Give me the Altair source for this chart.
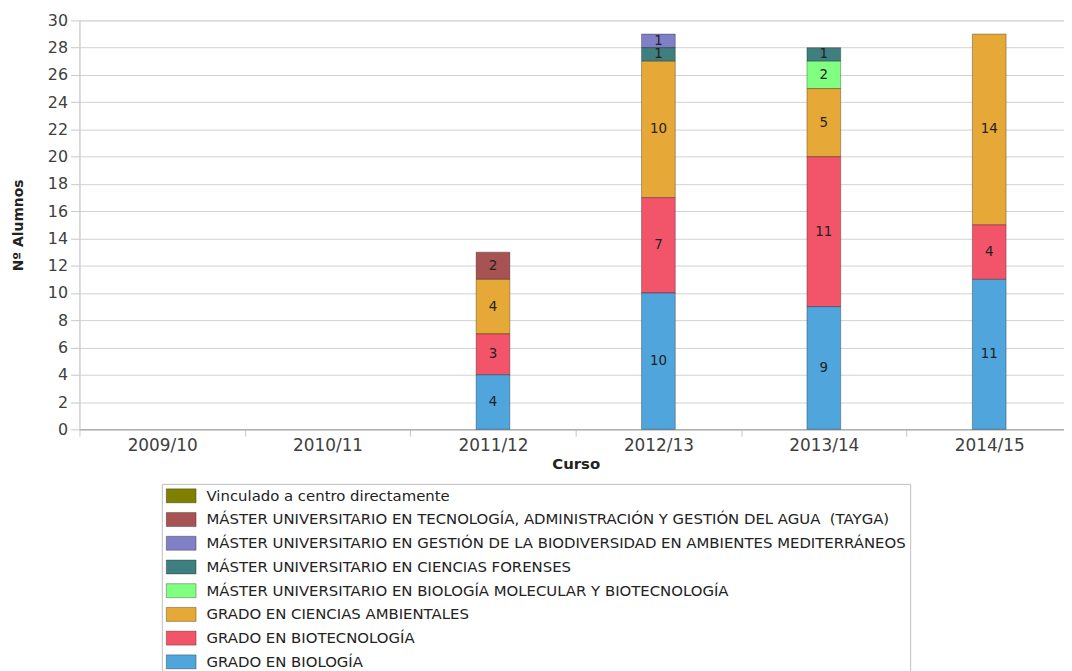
import altair as alt
import pandas as pd

cursos = ["2009/10", "2010/11", "2011/12", "2012/13", "2013/14", "2014/15"]

# Legend order (top to bottom)
programas = [
    "Vinculado a centro directamente",
    "MÁSTER UNIVERSITARIO EN TECNOLOGÍA, ADMINISTRACIÓN Y GESTIÓN DEL AGUA \u00a0(TAYGA)",
    "MÁSTER UNIVERSITARIO EN GESTIÓN DE LA BIODIVERSIDAD EN AMBIENTES MEDITERRÁNEOS",
    "MÁSTER UNIVERSITARIO EN CIENCIAS FORENSES",
    "MÁSTER UNIVERSITARIO EN BIOLOGÍA MOLECULAR Y BIOTECNOLOGÍA",
    "GRADO EN CIENCIAS AMBIENTALES",
    "GRADO EN BIOTECNOLOGÍA",
    "GRADO EN BIOLOGÍA",
]
colores = ["#808000", "#a85353", "#8080c6", "#3f7f7f", "#80ff80", "#e6a836", "#f25469", "#4fa5dc"]

# values per programme for each curso
vinculado = [0, 0, 0, 0, 0, 0]
tayga = [0, 0, 2, 0, 0, 0]
gestion = [0, 0, 0, 1, 0, 0]
forenses = [0, 0, 0, 1, 1, 0]
molecular = [0, 0, 0, 0, 2, 0]
ambientales = [0, 0, 4, 10, 5, 14]
biotecnologia = [0, 0, 3, 7, 11, 4]
biologia = [0, 0, 4, 10, 9, 11]

series = [vinculado, tayga, gestion, forenses, molecular, ambientales, biotecnologia, biologia]
y_ticks = list(range(0, 31, 2))

rows = []
for i, (prog, vals) in enumerate(zip(programas, series)):
    for curso, v in zip(cursos, vals):
        if v > 0:
            rows.append({"curso": curso, "programa": prog, "value": v,
                         "orden": len(programas) - 1 - i})
df = pd.DataFrame(rows)

base = alt.Chart(df).transform_stack(
    stack="value", groupby=["curso"], as_=["y0", "y1"],
    sort=[alt.SortField("orden", order="ascending")]
).transform_calculate(mid="(datum.y0 + datum.y1) / 2")

x_scale = alt.Scale(domain=cursos, paddingInner=0, paddingOuter=0, range=[0, 1000])
y_scale = alt.Scale(domain=[0, 30], nice=False, zero=True)

x_axis = alt.Axis(labelAngle=0, tickBand="extent", tickSize=7, tickColor="#c8c8c8",
                  domainColor="#9a9a9a", labelFontSize=17, labelColor="#404040",
                  labelFont="DejaVu Sans", labelPadding=1,
                  titleFont="DejaVu Sans", titleFontSize=15, titleFontWeight="bold",
                  titleColor="#222222", titlePadding=3, grid=False)
y_axis = alt.Axis(values=y_ticks, labelOverlap=False, labelBound=False,
                  tickSize=9, tickColor="#c8c8c8",
                  domainColor="#c8c8c8", gridColor="#d2d2d2", labelFontSize=16,
                  labelColor="#404040", labelFont="DejaVu Sans", labelPadding=3,
                  titleFont="DejaVu Sans", titleFontSize=14, titleFontWeight="bold",
                  titleColor="#222222", titlePadding=22)

bars = base.mark_bar(size=34, stroke="rgba(0,0,0,0.3)", strokeWidth=1).encode(
    x=alt.X("curso:N", scale=x_scale, title="Curso", axis=x_axis),
    y=alt.Y("y0:Q", scale=y_scale, title="Nº Alumnos", axis=y_axis),
    y2="y1:Q",
    color=alt.Color("programa:N", scale=alt.Scale(domain=programas, range=colores),
                    sort=programas,
                    legend=alt.Legend(title=None, orient="none", legendX=83, legendY=467,
                                      symbolType="M-1,-0.94H3V0.94H-1Z", symbolSize=225,
                                      symbolStrokeColor="rgba(0,0,0,0.3)", symbolStrokeWidth=1,
                                      labelFont="DejaVu Sans", labelFontSize=15,
                                      labelColor="#222222", labelOffset=25, labelLimit=1000,
                                      rowPadding=3.9, padding=4, strokeColor="#c0c0c0",
                                      fillColor="white")),
)

texts = base.mark_text(fontSize=13.5, font="DejaVu Sans", color="#222222").encode(
    x=alt.X("curso:N", scale=x_scale, title="Curso", axis=x_axis),
    y=alt.Y("mid:Q", scale=y_scale, title="Nº Alumnos", axis=y_axis),
    text=alt.Text("value:Q"),
)

chart = alt.layer(bars, texts).properties(
    width=992, height=412,
    autosize=alt.AutoSizeParams(type="none"),
    padding={"left": 72, "top": 10, "right": 0, "bottom": 241},
).configure_view(fill="#eeeeee", stroke="#bbbbbb").configure(background="white")

chart.save("out.html", embed_options={"renderer": "svg", "actions": False})
